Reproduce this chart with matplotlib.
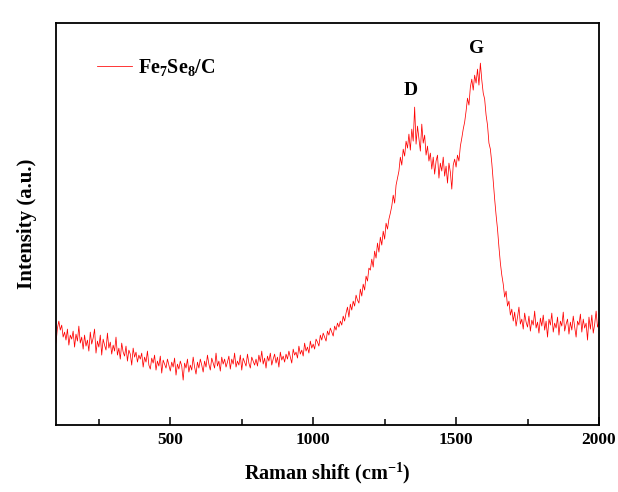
import numpy as np
import matplotlib
matplotlib.use("Agg")
import matplotlib.pyplot as plt
from matplotlib.ticker import MultipleLocator

# Raman spectrum of Fe7Se8/C, sampled every 5 cm-1 from 100 to 2000 (a.u.)
intensity = [
    82, 97, 104, 95, 100, 88, 93, 85, 96, 80, 90, 86, 94, 78, 91, 84, 99, 82, 88, 76,
    90, 79, 85, 74, 93, 81, 87, 96, 72, 84, 78, 90, 70, 86, 80, 75, 92, 77, 83, 71,
    80, 74, 88, 70, 77, 66, 82, 73, 69, 79, 64, 75, 71, 60, 77, 68, 73, 63, 70, 66,
    72, 58, 68, 63, 74, 60, 56, 67, 62, 70, 55, 64, 59, 69, 52, 65, 61, 57, 66, 60,
    54, 63, 58, 67, 50, 61, 56, 64, 59, 45, 62, 57, 66, 53, 60, 55, 68, 58, 51, 63,
    57, 66, 60, 53, 64, 58, 70, 61, 55, 67, 62, 57, 72, 59, 64, 54, 68, 61, 66, 58,
    63, 69, 56, 66, 61, 72, 58, 64, 60, 70, 55, 67, 63, 59, 71, 62, 57, 68, 64, 60,
    66, 59, 70, 63, 74, 61, 67, 57, 69, 64, 72, 60, 66, 71, 62, 68, 58, 73, 65, 69,
    63, 71, 66, 74, 68, 62, 76, 70, 73, 67, 79, 71, 75, 69, 82, 74, 78, 72, 84, 77,
    81, 76, 86, 83, 79, 90, 85, 92, 88, 84, 94, 90, 97, 93, 89, 99, 95, 102, 98, 104,
    100, 109, 104, 112, 118, 108, 121, 115, 124, 119, 130, 125, 122, 136, 129, 141, 135, 149, 144, 157,
    155, 166, 158, 174, 167, 182, 173, 188, 180, 194, 186, 202, 196, 206, 212, 219, 230, 222, 240, 247,
    254, 268, 260, 276, 269, 284, 277, 291, 275, 296, 284, 318, 281, 299, 286, 274, 301, 282, 290, 270,
    279, 264, 272, 256, 268, 251, 264, 270, 247, 262, 254, 268, 249, 259, 242, 262, 253, 236, 260, 266,
    258, 270, 264, 279, 287, 296, 303, 314, 327, 320, 338, 346, 335, 350, 342, 356, 340, 362, 345, 332,
    326, 310, 300, 282, 276, 262, 244, 226, 210, 196, 178, 162, 150, 141, 128, 134, 119, 124, 110, 116,
    104, 113, 99, 108, 118, 101, 106, 96, 112, 103, 98, 109, 94, 105, 100, 114, 97, 103, 92, 107,
    99, 110, 95, 104, 88, 106, 100, 112, 93, 102, 97, 108, 90, 104, 99, 113, 94, 101, 106, 91,
    103, 95, 109, 98, 88, 104, 100, 111, 93, 106, 97, 102, 85, 108, 96, 110, 92, 101, 114, 98,
    103,
]
shift = np.linspace(100, 2000, len(intensity))

peak_labels = ["D", "G"]
peak_pos = [1342, 1573]
peak_height = [335, 377]

plt.rcParams['font.family'] = ['Liberation Serif', 'DejaVu Serif']
plt.rcParams['font.weight'] = 'bold'
plt.rcParams['mathtext.fontset'] = 'custom'
plt.rcParams['mathtext.rm'] = 'Liberation Serif:bold'
plt.rcParams['mathtext.bf'] = 'Liberation Serif:bold'
plt.rcParams['mathtext.it'] = 'Liberation Serif:bold'
plt.rcParams['axes.unicode_minus'] = False

fig = plt.figure(figsize=(6.18, 4.92), dpi=100)
ax = fig.add_axes([0.0906, 0.136, 0.8786, 0.817])

ax.plot(shift, intensity, color='#ff0000', lw=0.55, label='Fe$_{7}$Se$_{8}$/C')

for lab, xp, yp in zip(peak_labels, peak_pos, peak_height):
    ax.text(xp, yp, lab, ha='center', va='center', fontsize=14, fontweight='bold')

ax.set_xlim(100, 2000)
ax.set_ylim(0, 402)
ax.xaxis.set_major_locator(MultipleLocator(500))
ax.xaxis.set_minor_locator(MultipleLocator(250))
ax.tick_params(axis='x', which='major', direction='in', length=6, width=1.1, labelsize=12.5, pad=5)
ax.tick_params(axis='x', which='minor', direction='in', length=4, width=1.1)
ax.set_yticks([])
for sp in ax.spines.values():
    sp.set_linewidth(1.3)

ax.set_xlabel('Raman shift (cm$^{-1}$)', fontsize=14.5, fontweight='bold', labelpad=9)
ax.set_ylabel('Intensity (a.u.)', fontsize=15, fontweight='bold', labelpad=14)

leg = ax.legend(loc='upper left', frameon=False, fontsize=14.5, handlelength=1.75,
                bbox_to_anchor=(0.06, 0.935), borderaxespad=0, handletextpad=0.3)
for t in leg.get_texts():
    t.set_fontweight('bold')

fig.savefig('out.png', dpi=100)
